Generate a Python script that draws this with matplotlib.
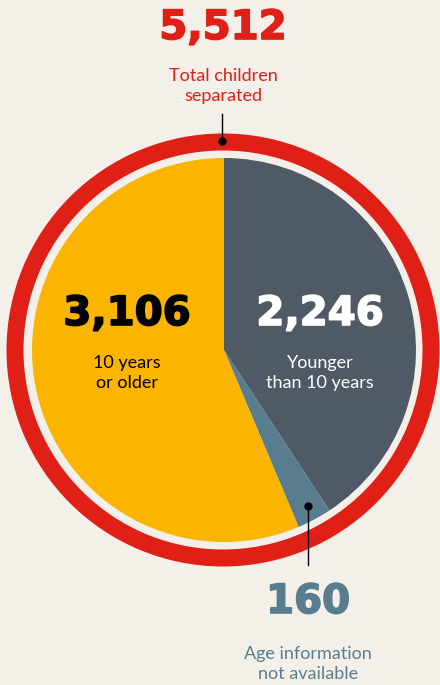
import matplotlib.pyplot as plt
import matplotlib.patheffects as pe
from matplotlib.patches import Wedge

# data
labels = ["Younger\nthan 10 years", "Age information\nnot available", "10 years\nor older"]
values = [2246, 160, 3106]
total = 5512
colors = ["#4f5a66", "#5a7c8f", "#fbb400"]

bg = "#f3f0ea"
red = "#e01f17"
num_font = "DejaVu Sans"
lab_font = "Lato"

fig = plt.figure(figsize=(4.4, 6.85), dpi=100, facecolor=bg)
ax = fig.add_axes([0, 0, 1, 1])
ax.set_facecolor(bg)

cx, cy = 224, 350

# pie (y axis inverted, so counterclock in data = clockwise on screen)
ax.pie(values, colors=colors, startangle=-90, counterclock=True,
       center=(cx, cy), radius=192, frame=True,
       wedgeprops=dict(linewidth=0))
ax.set_xlim(0, 440)
ax.set_ylim(685, 0)  # pixel-like coords, y downwards
ax.axis("off")

# red ring for the total
ax.add_patch(Wedge((cx - 1, cy), 216.5, 0, 360, width=17, color=red, linewidth=0))

# pointer for total
ax.plot([222, 222], [114, 141], color="black", lw=1)
ax.plot(222, 141, "o", color="black", ms=5)
# pointer for the small slice
ax.plot([308, 308], [506, 565], color="black", lw=1)
ax.plot(308, 506, "o", color="black", ms=5)

num_kw = dict(fontsize=29, fontweight="bold", family=num_font, ha="center", va="center")
lab_kw = dict(fontsize=13, family=lab_font, ha="center", va="center", linespacing=1.35)


def big(x, y, s, c):
    ax.text(x, y, s, color=c, path_effects=[pe.withStroke(linewidth=1.2, foreground=c)],
            **num_kw)


# total
big(223, 28, f"{total:,}", red)
ax.text(223, 86, "Total children\nseparated", color=red, **lab_kw)

# older
big(127, 314, f"{values[2]:,}", "black")
ax.text(127, 373, labels[2], color="black", **lab_kw)

# younger
big(320, 314, f"{values[0]:,}", "white")
ax.text(320, 373, labels[0], color="white", **lab_kw)

# not available
big(308, 602, f"{values[1]:,}", colors[1])
ax.text(308, 664, labels[1], color=colors[1], **lab_kw)

fig.savefig("out.png", dpi=100, facecolor=bg)
